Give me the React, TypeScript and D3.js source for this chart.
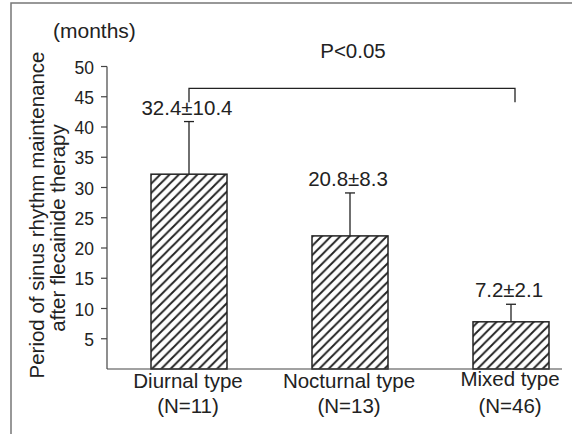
import React from "react";
import * as d3 from "d3";

const categories = ["Diurnal type", "Nocturnal type", "Mixed type"];
const groupSizes = ["(N=11)", "(N=13)", "(N=46)"];
const barValues = [32.2, 22.0, 7.8];
const errorTops = [40.9, 29.1, 10.7];
const valueLabels = ["32.4\u00b110.4", "20.8\u00b18.3", "7.2\u00b12.1"];
const yTicks = [5, 10, 15, 20, 25, 30, 35, 40, 45, 50];
const significance = "P<0.05";
const bracketLevel = 46.4;
const bracketDrop = 2.3;

const W = 572;
const H = 434;
const FONT = "'Liberation Sans', Arial, Helvetica, sans-serif";
const INK = "#222";

export default function App() {
  const y = d3.scaleLinear().domain([0, 50]).range([369, 66.5]);
  const x = d3.scalePoint<string>().domain(categories).range([189, 511]);
  const barW = 76;
  const axisX = 107;
  const axisEnd = 562;
  const capW = 10;

  const leftC = x(categories[0])!;
  const rightC = x(categories[2])!;

  return (
    <svg
      width={W}
      height={H}
      style={{ position: "absolute", left: 0, top: 0, background: "#fff" }}
      fontFamily={FONT}
    >
      <defs>
        <pattern id="hatch" patternUnits="userSpaceOnUse" width={9.3} height={9.3}>
          <path
            d="M-2.325,2.325 L2.325,-2.325 M0,9.3 L9.3,0 M6.975,11.625 L11.625,6.975"
            stroke={INK}
            strokeWidth={1.9}
          />
        </pattern>
      </defs>

      {/* frame */}
      <path d={`M11,${H} L11,3 L${W},3`} fill="none" stroke="#777" strokeWidth={1.5} />

      {/* (months) */}
      <text x={53} y={38} fontSize={21} fill={INK}>(months)</text>

      {/* y-axis title */}
      <text transform="translate(44,215) rotate(-90)" textAnchor="middle" fontSize={20.5} fill={INK}>
        Period of sinus rhythm maintenance
      </text>
      <text transform="translate(65,228) rotate(-90)" textAnchor="middle" fontSize={20.5} fill={INK}>
        after flecainide therapy
      </text>

      {/* y axis */}
      <line x1={axisX} x2={axisX} y1={y(50)} y2={y(0)} stroke="#444" strokeWidth={1.2} />
      {yTicks.map((t) => (
        <g key={t}>
          <line x1={axisX - 6} x2={axisX} y1={y(t)} y2={y(t)} stroke="#444" strokeWidth={1.2} />
          <text x={94} y={y(t) + 7} textAnchor="end" fontSize={17.5} fill={INK}>
            {t}
          </text>
        </g>
      ))}

      {/* bars */}
      {categories.map((c, i) => {
        const cx = x(c)!;
        return (
          <g key={c}>
            <line x1={cx} x2={cx} y1={y(barValues[i])} y2={y(errorTops[i])} stroke={INK} strokeWidth={1.3} />
            <line
              x1={cx - capW / 2}
              x2={cx + capW / 2}
              y1={y(errorTops[i])}
              y2={y(errorTops[i])}
              stroke={INK}
              strokeWidth={1.3}
            />
            <rect
              x={cx - barW / 2}
              y={y(barValues[i])}
              width={barW}
              height={y(0) - y(barValues[i])}
              fill="url(#hatch)"
              stroke={INK}
              strokeWidth={1.5}
            />
            <text x={cx - 2} y={y(errorTops[i]) - 7} textAnchor="middle" fontSize={20.5} fill={INK}>
              {valueLabels[i]}
            </text>
            <text x={cx - 1} y={i === 2 ? 386 : 388} textAnchor="middle" fontSize={20.5} fill={INK}>
              {c}
            </text>
            <text x={cx - 1} y={413} textAnchor="middle" fontSize={20.5} fill={INK}>
              {groupSizes[i]}
            </text>
          </g>
        );
      })}

      {/* x axis */}
      <line x1={axisX} x2={axisEnd} y1={y(0)} y2={y(0)} stroke="#444" strokeWidth={1.2} />

      {/* significance bracket */}
      <path
        d={`M${leftC},${y(bracketLevel - bracketDrop)} L${leftC},${y(bracketLevel)} L${rightC + 4},${y(
          bracketLevel
        )} L${rightC + 4},${y(bracketLevel - bracketDrop)}`}
        fill="none"
        stroke={INK}
        strokeWidth={1.3}
      />
      <text x={353} y={58} textAnchor="middle" fontSize={20.5} fill={INK}>
        {significance}
      </text>
    </svg>
  );
}
